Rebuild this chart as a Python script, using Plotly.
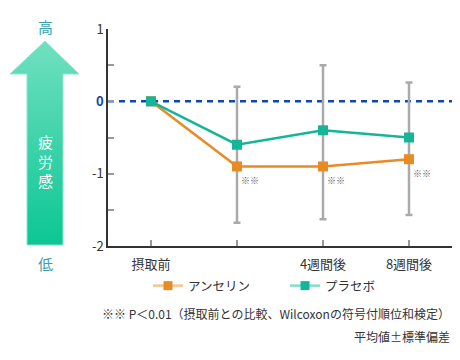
import plotly.graph_objects as go

# ---- data ----
categories = ["摂取前", "2週間後", "4週間後", "8週間後"]
tick_labels = ["摂取前", "", "4週間後", "8週間後"]
anserine_mean = [0.0, -0.90, -0.90, -0.80]
placebo_mean = [0.0, -0.60, -0.40, -0.50]
anserine_sd = [0.0, 0.78, 0.73, 0.77]
placebo_sd = [0.0, 0.80, 0.90, 0.76]
sig_marks = ["", "※※", "※※", "※※"]
y_tick_vals = [-2, -1.5, -1, -0.5, 0, 0.5, 1]
y_tick_text = ["-2", "", "-1", "", "<b><span style='color:#1048a8'>0</span></b>", "", "1"]

# page has an 8px body margin; the figure is laid out in page coordinates minus that
OFF = 8
W, H = 444, 344
FONT = "Noto Sans CJK JP"
ORANGE = "#e98b25"
TEAL = "#15b59a"

def px(x):
    return (x - OFF) / W

def py(y):
    return 1 - (y - OFF) / H

fig = go.Figure()

# error bars (gray), from placebo upper SD to anserine lower SD
err_up = [p + ps - a for p, ps, a in zip(placebo_mean, placebo_sd, anserine_mean)]
fig.add_trace(go.Scatter(
    x=categories[1:], y=anserine_mean[1:], mode="markers",
    marker=dict(size=1, opacity=0),
    error_y=dict(type="data", symmetric=False, array=err_up[1:], arrayminus=anserine_sd[1:],
                 color="#aaaaaa", thickness=2.5, width=3.5),
    showlegend=False, hoverinfo="skip"))

fig.add_trace(go.Scatter(
    x=categories, y=anserine_mean, mode="lines+markers", name="アンセリン",
    line=dict(color=ORANGE, width=2.5), marker=dict(symbol="square", size=10, color=ORANGE),
    showlegend=False))
fig.add_trace(go.Scatter(
    x=categories, y=placebo_mean, mode="lines+markers", name="プラセボ",
    line=dict(color=TEAL, width=2.5), marker=dict(symbol="square", size=10, color=TEAL),
    showlegend=False))

# legend-only entries
fig.add_trace(go.Scatter(x=[None], y=[None], mode="lines+markers", name="アンセリン",
                         line=dict(color="#f5c493", width=2.5),
                         marker=dict(symbol="square", size=9, color=ORANGE)))
fig.add_trace(go.Scatter(x=[None], y=[None], mode="lines+markers", name="プラセボ",
                         line=dict(color="#86ddca", width=2.5),
                         marker=dict(symbol="square", size=9, color=TEAL)))

# decorative arrow (page-pixel coordinates on an auxiliary axis)
arrow_x = [45, 79, 63, 63, 27, 27, 10, 45]
arrow_y = [41, 74, 74, 245, 245, 74, 74, 41]
fig.add_trace(go.Scatter(
    x=arrow_x, y=arrow_y, xaxis="x2", yaxis="y2", mode="lines",
    line=dict(width=1, color="#8fe6cd"), fill="toself",
    fillgradient=dict(type="vertical", colorscale=[[0, "#0cc694"], [1, "#70e0c0"]],
                      start=245, stop=41),
    showlegend=False, hoverinfo="skip"))

# significance marks
annotations = []
for c, a, s in zip(categories, anserine_mean, sig_marks):
    if s:
        annotations.append(dict(x=c, y=a, xref="x", yref="y", text=s, showarrow=False,
                                xanchor="center", yanchor="middle",
                                xshift=13, yshift=-14, font=dict(size=9, color="#555555", family=FONT)))

def label(x, y, text, size, color, xanchor="center"):
    return dict(x=px(x), y=py(y), xref="paper", yref="paper", text=text, showarrow=False,
                xanchor=xanchor, yanchor="middle",
                font=dict(size=size, color=color, family=FONT))

annotations += [
    label(45, 27, "高", 15, "#3a9fb0"),
    label(45, 263, "低", 15, "#3a9fb0"),
    label(45, 161, "疲<br>労<br>感", 15, "white"),
    label(452, 313, "※※ P＜0.01（摂取前との比較、Wilcoxonの符号付順位和検定）", 12, "#333333", "right"),
    label(452, 336, "平均値±標準偏差", 12, "#333333", "right"),
]

fig.update_layout(
    width=W, height=H, margin=dict(l=0, r=0, t=0, b=0, autoexpand=False),
    template="none",
    paper_bgcolor="white", plot_bgcolor="white",
    font=dict(family=FONT, size=13, color="#333333"),
    xaxis=dict(domain=[px(108), px(452)], type="category", categoryorder="array",
               categoryarray=categories, range=[-0.5, 3.5], automargin=False,
               tickvals=categories, ticktext=tick_labels,
               showline=True, linecolor="#333333", linewidth=1.5,
               ticks="inside", ticklen=6, tickwidth=1.5, tickcolor="#999999",
               showgrid=False, zeroline=False, ticklabelstandoff=6),
    yaxis=dict(domain=[py(246), py(29)], range=[-2, 1], automargin=False,
               tickvals=y_tick_vals, ticktext=y_tick_text,
               showline=True, linecolor="#333333", linewidth=1.5,
               ticks="inside", ticklen=6, tickwidth=1.5, tickcolor="#999999",
               showgrid=False, zeroline=False),
    xaxis2=dict(domain=[0, px(100)], range=[OFF, 100], visible=False, fixedrange=True,
                automargin=False, anchor="y2"),
    yaxis2=dict(domain=[0, 1], range=[OFF + H, OFF], visible=False, fixedrange=True,
                automargin=False, anchor="x2"),
    shapes=[dict(type="line", xref="x domain", yref="y", x0=0, x1=1, y0=0, y1=0,
                 line=dict(color="#1048a8", width=2.5, dash="6px,5px"), layer="below")],
    legend=dict(orientation="h", x=px(148), xanchor="left",
                y=py(286), yanchor="middle", font=dict(size=12.5, color="#333333"),
                itemwidth=30, entrywidth=92, entrywidthmode="pixels",
                bgcolor="rgba(0,0,0,0)"),
    annotations=annotations,
)

fig.write_html("out.html")
